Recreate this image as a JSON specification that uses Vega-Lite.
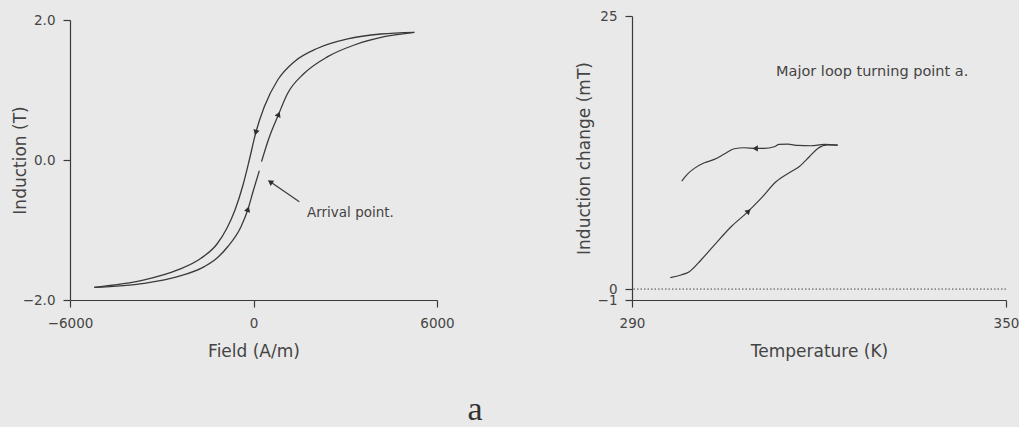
{
  "$schema": "https://vega.github.io/schema/vega-lite/v6.json",
  "background": "#e9e9e9",
  "padding": {"left": 11, "top": 9, "right": 0, "bottom": 0},
  "spacing": 195,
  "bounds": "flush",
  "config": {
    "view": {"stroke": null},
    "font": "DejaVu Sans",
    "axis": {
      "grid": false,
      "domainColor": "#3a3a3a",
      "tickColor": "#3a3a3a",
      "labelColor": "#444444",
      "titleColor": "#444444",
      "labelFont": "DejaVu Sans",
      "titleFont": "DejaVu Sans",
      "labelFontSize": 13.5,
      "titleFontSize": 17,
      "titleFontWeight": "normal",
      "tickSize": 7,
      "labelPadding": 8,
      "domainWidth": 1.2,
      "tickWidth": 1.2,
      "labelOverlap": false,
      "labelFlush": false
    }
  },
  "title": {"text": "a", "orient": "bottom", "font": "Liberation Serif", "fontSize": 34, "fontWeight": "normal", "color": "#333333", "anchor": "middle", "dx": -40, "offset": 33},
  "datasets": {
    "hyst": [
      {"seg": "asc1", "i": 1, "H": -5205, "B": -1.819},
      {"seg": "asc1", "i": 2, "H": -3571, "B": -1.761},
      {"seg": "asc1", "i": 3, "H": -2478, "B": -1.667},
      {"seg": "asc1", "i": 4, "H": -1609, "B": -1.524},
      {"seg": "asc1", "i": 5, "H": -1193, "B": -1.4},
      {"seg": "asc1", "i": 6, "H": -844, "B": -1.239},
      {"seg": "asc1", "i": 7, "H": -409, "B": -0.953},
      {"seg": "asc1", "i": 8, "H": -190, "B": -0.714},
      {"seg": "asc1", "i": 9, "H": 0, "B": -0.429},
      {"seg": "asc1", "i": 10, "H": 190, "B": -0.153},
      {"seg": "asc2", "i": 11, "H": 262, "B": -0.024},
      {"seg": "asc2", "i": 12, "H": 507, "B": 0.314},
      {"seg": "asc2", "i": 13, "H": 811, "B": 0.643},
      {"seg": "asc2", "i": 14, "H": 1118, "B": 0.953},
      {"seg": "asc2", "i": 15, "H": 1661, "B": 1.239},
      {"seg": "asc2", "i": 16, "H": 2426, "B": 1.476},
      {"seg": "asc2", "i": 17, "H": 3296, "B": 1.643},
      {"seg": "asc2", "i": 18, "H": 4277, "B": 1.761},
      {"seg": "asc2", "i": 19, "H": 5258, "B": 1.824},
      {"seg": "desc", "i": 20, "H": 5258, "B": 1.824},
      {"seg": "desc", "i": 21, "H": 4169, "B": 1.8},
      {"seg": "desc", "i": 22, "H": 3080, "B": 1.729},
      {"seg": "desc", "i": 23, "H": 2099, "B": 1.596},
      {"seg": "desc", "i": 24, "H": 1334, "B": 1.404},
      {"seg": "desc", "i": 25, "H": 791, "B": 1.143},
      {"seg": "desc", "i": 26, "H": 353, "B": 0.761},
      {"seg": "desc", "i": 27, "H": 82, "B": 0.404},
      {"seg": "desc", "i": 28, "H": -137, "B": 0.0},
      {"seg": "desc", "i": 29, "H": -343, "B": -0.357},
      {"seg": "desc", "i": 30, "H": -605, "B": -0.714},
      {"seg": "desc", "i": 31, "H": -866, "B": -0.971},
      {"seg": "desc", "i": 32, "H": -1193, "B": -1.2},
      {"seg": "desc", "i": 33, "H": -1717, "B": -1.404},
      {"seg": "desc", "i": 34, "H": -2478, "B": -1.571},
      {"seg": "desc", "i": 35, "H": -3571, "B": -1.714},
      {"seg": "desc", "i": 36, "H": -5205, "B": -1.819}
    ],
    "arrowsL": [
      {"H": 82, "B": 0.404, "dir": 196},
      {"H": -190, "B": -0.714, "dir": 19},
      {"H": 811, "B": 0.643, "dir": 23},
      {"H": 570, "B": -0.32, "dir": 305}
    ],
    "pointerL": [
      {"H": 1498, "B": -0.596, "H2": 560, "B2": -0.315}
    ],
    "notesL": [
      {"H": 1749, "B": -0.757, "label": "Arrival point."}
    ],
    "temp": [
      {"seg": "heat", "i": 1, "T": 296.15, "dB": 1.04},
      {"seg": "heat", "i": 2, "T": 297.86, "dB": 1.29},
      {"seg": "heat", "i": 3, "T": 299.2, "dB": 1.59},
      {"seg": "heat", "i": 4, "T": 301.07, "dB": 2.66},
      {"seg": "heat", "i": 5, "T": 303.2, "dB": 4.03},
      {"seg": "heat", "i": 6, "T": 305.9, "dB": 5.71},
      {"seg": "heat", "i": 7, "T": 308.3, "dB": 6.93},
      {"seg": "heat", "i": 8, "T": 310.7, "dB": 8.3},
      {"seg": "heat", "i": 9, "T": 313.1, "dB": 9.82},
      {"seg": "heat", "i": 10, "T": 315.5, "dB": 10.74},
      {"seg": "heat", "i": 11, "T": 316.8, "dB": 11.2},
      {"seg": "heat", "i": 12, "T": 318.45, "dB": 12.11},
      {"seg": "heat", "i": 13, "T": 319.8, "dB": 12.88},
      {"seg": "heat", "i": 14, "T": 321.4, "dB": 13.21},
      {"seg": "heat", "i": 15, "T": 323.0, "dB": 13.18},
      {"seg": "cool", "i": 16, "T": 323.0, "dB": 13.18},
      {"seg": "cool", "i": 17, "T": 320.85, "dB": 13.24},
      {"seg": "cool", "i": 18, "T": 318.7, "dB": 13.12},
      {"seg": "cool", "i": 19, "T": 316.6, "dB": 13.15},
      {"seg": "cool", "i": 20, "T": 315.0, "dB": 13.27},
      {"seg": "cool", "i": 21, "T": 313.6, "dB": 13.24},
      {"seg": "cool", "i": 22, "T": 312.8, "dB": 13.03},
      {"seg": "cool", "i": 23, "T": 311.2, "dB": 12.88},
      {"seg": "cool", "i": 24, "T": 309.9, "dB": 12.88},
      {"seg": "cool", "i": 25, "T": 308.0, "dB": 12.94},
      {"seg": "cool", "i": 26, "T": 306.4, "dB": 12.85},
      {"seg": "cool", "i": 27, "T": 304.8, "dB": 12.36},
      {"seg": "cool", "i": 28, "T": 303.2, "dB": 11.87},
      {"seg": "cool", "i": 29, "T": 301.6, "dB": 11.56},
      {"seg": "cool", "i": 30, "T": 300.0, "dB": 11.05},
      {"seg": "cool", "i": 31, "T": 298.9, "dB": 10.53},
      {"seg": "cool", "i": 32, "T": 297.97, "dB": 9.89}
    ],
    "arrowsR": [
      {"T": 309.9, "dB": 12.88, "dir": 270},
      {"T": 308.6, "dB": 7.08, "dir": 47}
    ],
    "zeroR": [
      {"dB": 0}
    ],
    "notesR": [
      {"T": 313.1, "dB": 19.86, "label": "Major loop turning point a."}
    ]
  },
  "hconcat": [
    {
      "width": 367,
      "height": 284,
      "layer": [
        {
          "data": {"name": "hyst"},
          "mark": {"type": "line", "color": "#3a3a3a", "strokeWidth": 1.3, "interpolate": "monotone"},
          "encoding": {
            "x": {"field": "H", "type": "quantitative", "scale": {"domain": [-6000, 6000], "nice": false},
                  "axis": {"values": [-6000, 0, 6000], "format": "d", "title": "Field (A/m)", "labelPadding": 9, "titlePadding": 14}},
            "y": {"field": "B", "type": "quantitative", "scale": {"domain": [-2, 2], "range": [284, 4], "nice": false},
                  "axis": {"values": [-2, 0, 2], "format": ".1f", "title": "Induction (T)", "titlePadding": -7}},
            "detail": {"field": "seg"},
            "order": {"field": "i"}
          }
        },
        {
          "data": {"name": "pointerL"},
          "mark": {"type": "rule", "color": "#3a3a3a", "strokeWidth": 1.2},
          "encoding": {
            "x": {"field": "H", "type": "quantitative"},
            "y": {"field": "B", "type": "quantitative"},
            "x2": {"field": "H2"},
            "y2": {"field": "B2"}
          }
        },
        {
          "data": {"name": "arrowsL"},
          "mark": {"type": "point", "shape": "triangle", "filled": true, "color": "#2e2e2e", "size": 40, "opacity": 1},
          "encoding": {
            "x": {"field": "H", "type": "quantitative"},
            "y": {"field": "B", "type": "quantitative"},
            "angle": {"field": "dir", "type": "quantitative", "scale": null}
          }
        },
        {
          "data": {"name": "notesL"},
          "mark": {"type": "text", "align": "left", "baseline": "middle", "fontSize": 13.5, "font": "DejaVu Sans", "color": "#444444"},
          "encoding": {
            "x": {"field": "H", "type": "quantitative"},
            "y": {"field": "B", "type": "quantitative"},
            "text": {"field": "label"}
          }
        }
      ]
    },
    {
      "width": 374,
      "height": 284,
      "layer": [
        {
          "data": {"name": "temp"},
          "mark": {"type": "line", "color": "#3a3a3a", "strokeWidth": 1.2, "interpolate": "monotone"},
          "encoding": {
            "x": {"field": "T", "type": "quantitative", "scale": {"domain": [290, 350], "nice": false, "zero": false},
                  "axis": {"values": [290, 350], "title": "Temperature (K)", "labelPadding": 9, "titlePadding": 14}},
            "y": {"field": "dB", "type": "quantitative", "scale": {"domain": [-1, 25], "nice": false, "zero": false},
                  "axis": {"values": [-1, 0, 25], "title": "Induction change (mT)", "titlePadding": 4}},
            "detail": {"field": "seg"},
            "order": {"field": "i"}
          }
        },
        {
          "data": {"name": "zeroR"},
          "mark": {"type": "rule", "color": "#444444", "strokeWidth": 1, "strokeDash": [1.5, 2]},
          "encoding": {"y": {"field": "dB", "type": "quantitative"}}
        },
        {
          "data": {"name": "arrowsR"},
          "mark": {"type": "point", "shape": "triangle", "filled": true, "color": "#2e2e2e", "size": 40, "opacity": 1},
          "encoding": {
            "x": {"field": "T", "type": "quantitative"},
            "y": {"field": "dB", "type": "quantitative"},
            "angle": {"field": "dir", "type": "quantitative", "scale": null}
          }
        },
        {
          "data": {"name": "notesR"},
          "mark": {"type": "text", "align": "left", "baseline": "middle", "fontSize": 14.5, "font": "DejaVu Sans", "color": "#444444"},
          "encoding": {
            "x": {"field": "T", "type": "quantitative"},
            "y": {"field": "dB", "type": "quantitative"},
            "text": {"field": "label"}
          }
        }
      ]
    }
  ]
}
